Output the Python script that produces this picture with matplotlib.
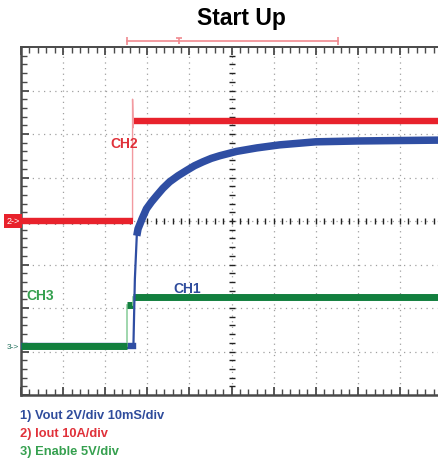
import matplotlib
matplotlib.use("Agg")
import matplotlib.pyplot as plt
import numpy as np

# traces, in screen divisions (x: 10 div, y: 8 div)
blue_t = [0.0, 2.67, 2.705, 2.75, 2.78, 2.88, 2.98, 3.1, 3.22, 3.37, 3.53, 3.73,
          3.93, 4.12, 4.32, 4.52, 4.72, 5.12, 5.6, 6.14, 7.0, 8.0, 9.0, 10.0]
blue_v = [1.12, 1.12, 2.67, 3.66, 3.82, 4.06, 4.28, 4.44, 4.58, 4.75, 4.90, 5.04,
          5.16, 5.27, 5.36, 5.44, 5.50, 5.60, 5.68, 5.75, 5.82, 5.84, 5.85, 5.86]

red_t = [0.0, 2.65, 2.65, 2.665, 2.68, 10.0]
red_v = [4.0, 4.0, 6.80, 6.15, 6.29, 6.29]

green_t = [0.0, 2.51, 2.51, 2.66, 2.66, 10.0]
green_v = [1.12, 1.12, 2.08, 2.08, 2.25, 2.25]

legend_lines = ["1) Vout 2V/div 10mS/div", "2) Iout 10A/div", "3) Enable 5V/div"]

BLUE = "#2F4EA3"
RED = "#E8222C"
GREEN = "#127F3E"
TXT_BLUE = "#2F4C9C"
TXT_RED = "#E0313A"
TXT_GREEN = "#35A04F"
FRAME = "#4a4a4a"

plt.rcParams["font.family"] = ["Liberation Sans", "DejaVu Sans"]

W, H = 439, 460
fig = plt.figure(figsize=(W / 100, H / 100), dpi=100)
ax = fig.add_axes([21 / W, (H - 396) / H, (442 - 21) / W, (396 - 48) / H])
ax.set_xlim(0, 10)
ax.set_ylim(0, 8)

# graticule
for gx in range(1, 10):
    ax.axvline(gx, color="#a0a0a0", lw=0.9, ls=(0, (1, 3.5)), zorder=1)
for gy in range(1, 8):
    ax.axhline(gy, color="#a0a0a0", lw=0.9, ls=(0, (1, 3.5)), zorder=1)

for side in ["left", "bottom", "top", "right"]:
    ax.spines[side].set_color(FRAME)
ax.spines["left"].set_linewidth(1.8)
ax.spines["bottom"].set_linewidth(1.8)
ax.spines["top"].set_linewidth(1.4)

ax.set_xticks(np.arange(0, 10.01, 1))
ax.set_xticks(np.arange(0, 10.01, 0.2), minor=True)
ax.set_yticks(np.arange(0, 8.01, 1))
ax.set_yticks(np.arange(0, 8.01, 0.2), minor=True)
ax.tick_params(which="both", direction="in", colors=FRAME, labelbottom=False,
               labelleft=False, top=True, bottom=True, left=True, right=False)
ax.tick_params(which="major", length=6, width=1.3)
ax.tick_params(which="minor", length=4, width=1.0)

# centre crosshair ticks
cx = np.arange(0.2, 10, 0.2)
cy = np.arange(0.2, 8, 0.2)
ax.plot(cx, np.full_like(cx, 4.0), ls="none", marker="|", ms=4.5, mew=1.0,
        color="#222222", zorder=2)
ax.plot(np.full_like(cy, 5.0), cy, ls="none", marker="_", ms=4.5, mew=1.0,
        color="#222222", zorder=2)

# CH1 (blue): flat part under green, rise drawn over it
ax.plot(blue_t[:2], blue_v[:2], color=BLUE, lw=4.6, zorder=3)
ax.plot(blue_t[1:4], blue_v[1:4], color=BLUE, lw=1.6, zorder=5)
ax.plot(blue_t[3:], blue_v[3:], color=BLUE, lw=5.4, zorder=5,
        solid_capstyle="butt")

# CH3 (green)
ax.plot(green_t[1:3], green_v[1:3], color="#8fcf9f", lw=1.2, zorder=4)
ax.plot(green_t[:2], green_v[:2], color=GREEN, lw=5.0, zorder=4,
        solid_capstyle="butt")
ax.plot(green_t[2:4], green_v[2:4], color=GREEN, lw=5.0, zorder=4,
        solid_capstyle="butt")
ax.plot(green_t[3:5], green_v[3:5], color="#8fcf9f", lw=1.2, zorder=4)
ax.plot(green_t[4:], green_v[4:], color=GREEN, lw=5.0, zorder=4,
        solid_capstyle="butt")

# CH2 (red)
ax.plot(red_t[1:4], red_v[1:4], color="#f29aa0", lw=1.0, zorder=6)
ax.plot(red_t[:2], red_v[:2], color=RED, lw=4.6, zorder=6,
        solid_capstyle="butt")
ax.plot(red_t[4:], red_v[4:], color=RED, lw=4.6, zorder=6,
        solid_capstyle="butt")

# channel labels
ax.text(2.13, 5.70, "CH2", color=TXT_RED, fontsize=10, fontweight="bold",
        va="baseline", zorder=7)
ax.text(3.61, 2.36, "CH1", color=TXT_BLUE, fontsize=10, fontweight="bold",
        va="baseline", zorder=7)
ax.text(0.12, 2.21, "CH3", color=TXT_GREEN, fontsize=10, fontweight="bold",
        va="baseline", zorder=7)

# ground markers on the left edge
ax.text(-0.03, 4.0, "2->", color="white", fontsize=6.5, ha="right",
        va="center", clip_on=False,
        bbox=dict(boxstyle="square,pad=0.3", fc=RED, ec="none"))
ax.text(-0.05, 1.12, "3->", color="#1f6f5a", fontsize=6, ha="right",
        va="center", clip_on=False)

# trigger window bar above the screen
TRIG = "#f08a90"
ax.plot([2.515, 7.52], [8.14, 8.14], color=TRIG, lw=1.2, clip_on=False)
ax.plot([2.515, 7.52], [8.14, 8.14], ls="none", marker="|", ms=6, mew=1.2,
        color=TRIG, clip_on=False)
ax.plot([3.75], [8.14], ls="none", marker="|", ms=5, mew=1.2, color=TRIG,
        clip_on=False)
ax.plot([3.75], [8.20], ls="none", marker="_", ms=4, mew=1.2, color=TRIG,
        clip_on=False)

fig.text(241 / W, (H - 25) / H, "Start Up", fontsize=16.5, fontweight="bold",
         ha="center", va="baseline", color="black")

for i, (txt, col) in enumerate(zip(legend_lines, [TXT_BLUE, TXT_RED, TXT_GREEN])):
    fig.text(20 / W, (H - 419 - 18 * i) / H, txt, fontsize=9.3,
             fontweight="bold", color=col, ha="left", va="baseline")

fig.savefig("out.png", dpi=100)
